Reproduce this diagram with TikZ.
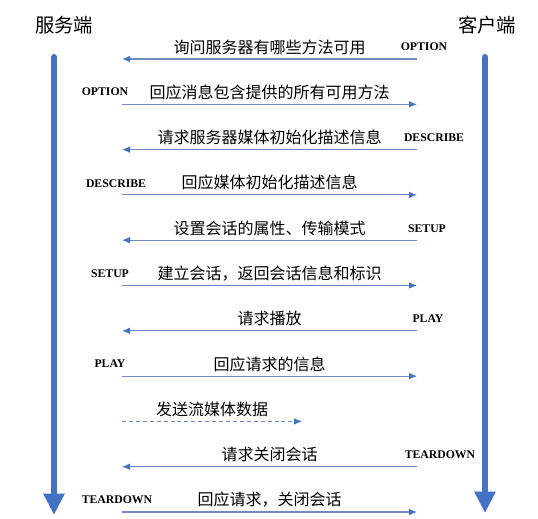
\documentclass[tikz,border=0pt]{standalone}
\usepackage{fontspec}
\newfontfamily\cjk{Noto Sans CJK SC}
\newfontfamily\tnr{Liberation Serif}
\usetikzlibrary{arrows.meta}
\definecolor{lifeblue}{RGB}{68,114,196}
\definecolor{msgblue}{RGB}{110,140,190}
\tikzset{
  lifeline/.style={line width=4.5pt, lifeblue, line cap=round, -{Triangle[width=15pt,length=16pt]}},
  msgline/.style={line width=0.8pt, msgblue, arrows={-{Latex[length=6pt,width=5pt,color=lifeblue]}}},
  msgtext/.style={font=\cjk\fontsize{12}{14}\selectfont, text=black, above, inner sep=2pt, yshift=1pt},
  cmd/.style={font=\tnr\bfseries\fontsize{8.8}{10}\selectfont, inner sep=1pt},
  side/.style={font=\cjk\fontsize{14.5}{16}\selectfont, inner sep=1pt}
}
\begin{document}
\begin{tikzpicture}[x=0.75pt, y=-0.75pt, line join=round]
\useasboundingbox (0,0) rectangle (538,518);
  % the two sides
  \node[side] (srv) at (64,25) {服务端};
  \node[side] (cli) at (487,25) {客户端};
  \coordinate (srvtop) at (54,57); \coordinate (srvend) at (54,515);
  \coordinate (clitop) at (485,57); \coordinate (cliend) at (485,513);
  \draw[lifeline] (srvtop)--(srvend);
  \draw[lifeline] (clitop)--(cliend);
  % ends of the messages
  \coordinate (s1) at (122,59);    \coordinate (c1) at (417,59);
  \coordinate (s2) at (122,104.3); \coordinate (c2) at (417,104.3);
  \coordinate (s3) at (122,149.6); \coordinate (c3) at (417,149.6);
  \coordinate (s4) at (122,194.9); \coordinate (c4) at (417,194.9);
  \coordinate (s5) at (122,240.2); \coordinate (c5) at (417,240.2);
  \coordinate (s6) at (122,285.5); \coordinate (c6) at (417,285.5);
  \coordinate (s7) at (122,330.8); \coordinate (c7) at (417,330.8);
  \coordinate (s8) at (122,376.1); \coordinate (c8) at (417,376.1);
  \coordinate (s9) at (122,421.4); \coordinate (c9) at (302,421.4);
  \coordinate (s10) at (122,466.7); \coordinate (c10) at (417,466.7);
  \coordinate (s11) at (122,512);   \coordinate (c11) at (417,512);
  % messages
  \draw[msgline] (c1)-- node[msgtext] (m1) {询问服务器有哪些方法可用} (s1);
  \draw[msgline] (s2)-- node[msgtext] (m2) {回应消息包含提供的所有可用方法} (c2);
  \draw[msgline] (c3)-- node[msgtext] (m3) {请求服务器媒体初始化描述信息} (s3);
  \draw[msgline] (s4)-- node[msgtext] (m4) {回应媒体初始化描述信息} (c4);
  \draw[msgline] (c5)-- node[msgtext] (m5) {设置会话的属性、传输模式} (s5);
  \draw[msgline] (s6)-- node[msgtext] (m6) {建立会话，返回会话信息和标识} (c6);
  \draw[msgline] (c7)-- node[msgtext] (m7) {请求播放} (s7);
  \draw[msgline] (s8)-- node[msgtext] (m8) {回应请求的信息} (c8);
  \draw[msgline, dash pattern=on 3pt off 2.2pt] (s9)-- node[msgtext] (m9) {发送流媒体数据} (c9);
  \draw[msgline] (c10)-- node[msgtext] (m10) {请求关闭会话} (s10);
  \draw[msgline] (s11)-- node[msgtext] (m11) {回应请求，关闭会话} (c11);
  % method names
  \node[cmd] (o1) at (424,47) {OPTION};
  \node[cmd] (o2) at (105,92) {OPTION};
  \node[cmd] (d1) at (434,138) {DESCRIBE};
  \node[cmd] (d2) at (116,184) {DESCRIBE};
  \node[cmd] (u1) at (427,229) {SETUP};
  \node[cmd] (u2) at (110,274) {SETUP};
  \node[cmd] (p1) at (428,319) {PLAY};
  \node[cmd] (p2) at (110,364) {PLAY};
  \node[cmd] (t1) at (440,455) {TEARDOWN};
  \node[cmd] (t2) at (117,500) {TEARDOWN};
\end{tikzpicture}
\end{document}
